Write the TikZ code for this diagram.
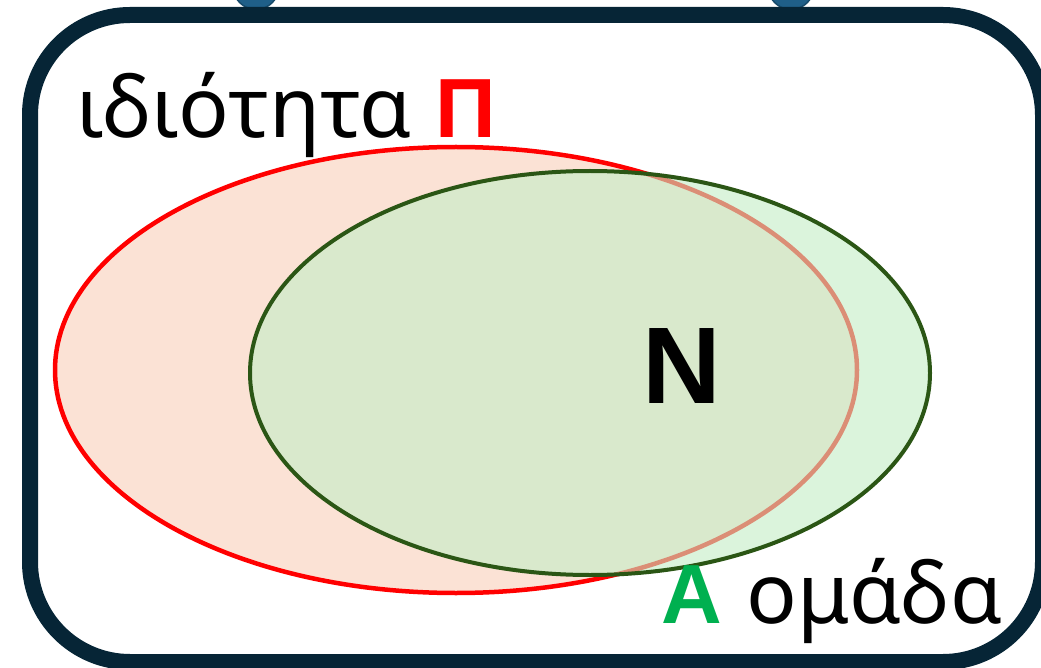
\documentclass[tikz,border=0pt]{standalone}
\usepackage{fontspec}
\setmainfont{Noto Sans}
\newfontfamily\bsans{Liberation Sans}
\definecolor{navy}{HTML}{062536}
\definecolor{pinkfill}{HTML}{FBE2D5}
\definecolor{grfill}{HTML}{C3EEC6}
\definecolor{grline}{HTML}{2B5615}
\definecolor{agreen}{HTML}{00B050}
\definecolor{knob}{HTML}{1F5F88}
\definecolor{knobedge}{HTML}{164A6A}
\tikzset{
  frame/.style={draw=navy, line width=16pt, rounded corners=100pt, fill=white},
  knobstyle/.style={fill=knob, draw=knobedge, line width=1.5pt},
  setP/.style={draw=red, line width=4.5pt, fill=pinkfill},
  setAfill/.style={fill=grfill, fill opacity=0.6},
  setAline/.style={draw=grline, line width=4pt},
  lbl/.style={inner sep=0pt, anchor=base west, font=\fontsize{84}{100}\selectfont},
  big/.style={inner sep=0pt, anchor=base west, font=\fontsize{109}{120}\selectfont\bsans\bfseries},
}
\begin{document}
\begin{tikzpicture}[x=1pt,y=-1pt]
\useasboundingbox (0,0) rectangle (1041,668);
\begin{scope}
\clip (0,0) rectangle (1041,668);
\node[knobstyle, circle, minimum size=46pt, inner sep=0pt] (k1) at (256,-13.6) {};
\node[knobstyle, circle, minimum size=46pt, inner sep=0pt] (k2) at (791,-13.6) {};
\draw[frame] (30,15) rectangle (1043,662);
\end{scope}
\draw[setP] (456,370) ellipse [x radius=401, y radius=223];
\path[setAfill] (590,373) ellipse [x radius=340, y radius=202];
\draw[setAline] (590,373) ellipse [x radius=340, y radius=202];
\node[lbl] (tP) at (76,138) {ιδιότητα\hspace{2pt} \textcolor{red}{\bsans\bfseries Π}};
\node[lbl] (tA) at (661,623) {\textcolor{agreen}{\bsans\bfseries Α}\hspace{3pt} ομάδα};
\node[big] (tN) at (642,403) {N};
\end{tikzpicture}
\end{document}
